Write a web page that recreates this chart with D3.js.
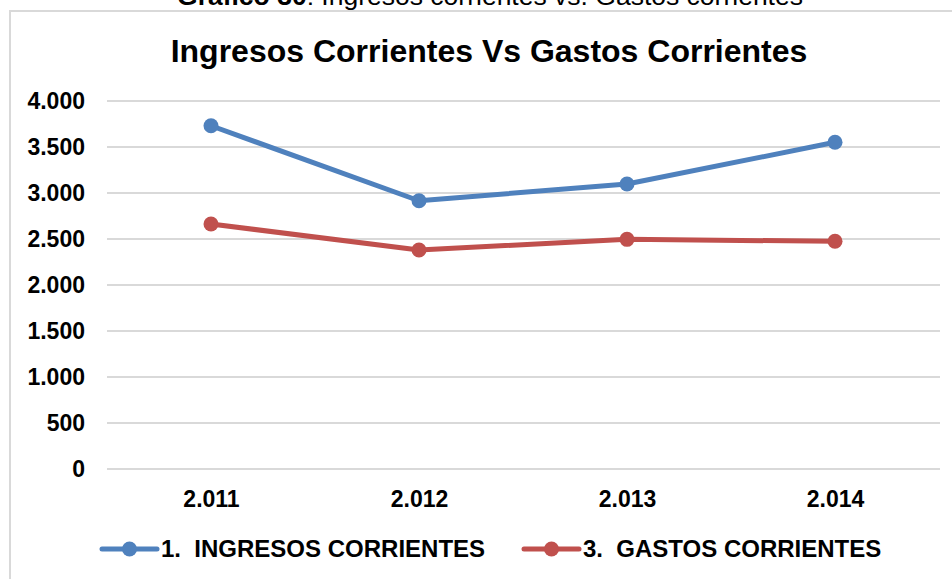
<!DOCTYPE html>
<html>
<head>
<meta charset="utf-8">
<script src="https://cdn.jsdelivr.net/npm/d3@7"></script>
<style>
  html, body { margin: 0; padding: 0; background: #fff; }
  svg { display: block; font-family: "Liberation Sans", Arial, sans-serif; }
</style>
</head>
<body>
<svg id="chart" width="952" height="579"></svg>
<script>
// Years on the horizontal axis
const years = ["2.011", "2.012", "2.013", "2.014"];
// Series values
const ingresos = [3731, 2916, 3098, 3551];
const gastos = [2663, 2380, 2496, 2475];
// Series names and colours
const seriesNames = ["1.  INGRESOS CORRIENTES", "3.  GASTOS CORRIENTES"];
const seriesColors = ["#4F81BD", "#C0504D"];
// Value axis ticks
const yTicks = [0, 500, 1000, 1500, 2000, 2500, 3000, 3500, 4000];

const svg = d3.select("#chart");
const fmt = v => d3.format(",")(v).replace(/,/g, ".");

// Caption above the chart box (partly clipped by the page top)
const cap = svg.append("text")
  .attr("x", 490).attr("y", 5)
  .attr("text-anchor", "middle")
  .attr("font-size", 26.5)
  .attr("fill", "#000");
cap.append("tspan").attr("font-weight", "bold").text("Gráfico 30");
cap.append("tspan").text(": Ingresos corrientes vs. Gastos corrientes");

// Chart box border (left and top edges visible)
svg.append("path")
  .attr("d", "M10,579 L10,11 L952,11")
  .attr("fill", "none")
  .attr("stroke", "#D9D9D9")
  .attr("stroke-width", 2);

// Title
svg.append("text")
  .attr("x", 489).attr("y", 62)
  .attr("text-anchor", "middle")
  .attr("font-size", 32)
  .attr("font-weight", "bold")
  .attr("fill", "#000")
  .text("Ingresos Corrientes Vs Gastos Corrientes");

const x = d3.scalePoint().domain(years).range([107, 939]).padding(0.5);
const y = d3.scaleLinear().domain([0, 4000]).range([469, 101]);

// Gridlines
svg.append("g")
  .selectAll("line")
  .data(yTicks)
  .join("line")
  .attr("x1", 107).attr("x2", 940)
  .attr("y1", d => y(d)).attr("y2", d => y(d))
  .attr("stroke", "#D9D9D9")
  .attr("stroke-width", 2);

// Value axis labels
const yAxis = d3.axisLeft(y).tickValues(yTicks).tickFormat(fmt).tickSize(0).tickPadding(0);
const gy = svg.append("g").attr("transform", "translate(85,0)").call(yAxis);
gy.select(".domain").remove();
gy.selectAll("text")
  .attr("font-size", 23).attr("font-weight", "bold")
  .attr("font-family", "Liberation Sans, Arial, sans-serif")
  .attr("fill", "#000");

// Category axis labels
const xAxis = d3.axisBottom(x).tickSize(0).tickPadding(0);
const gx = svg.append("g").attr("transform", "translate(0,490)").call(xAxis);
gx.select(".domain").remove();
gx.selectAll("text")
  .attr("dy", "0.72em")
  .attr("font-size", 23).attr("font-weight", "bold")
  .attr("font-family", "Liberation Sans, Arial, sans-serif")
  .attr("fill", "#000");

// Lines and markers
const series = [ingresos, gastos];
const line = d3.line().x((d, i) => x(years[i])).y(d => y(d));
series.forEach((vals, s) => {
  svg.append("path")
    .datum(vals)
    .attr("d", line)
    .attr("fill", "none")
    .attr("stroke", seriesColors[s])
    .attr("stroke-width", 5)
    .attr("stroke-linejoin", "round")
    .attr("stroke-linecap", "round");
  svg.append("g")
    .selectAll("circle")
    .data(vals)
    .join("circle")
    .attr("cx", (d, i) => x(years[i]))
    .attr("cy", d => y(d))
    .attr("r", 7.5)
    .attr("fill", seriesColors[s]);
});

// Legend
const legendX = [102, 524];
const legendY = 549;
seriesNames.forEach((name, s) => {
  const g = svg.append("g").attr("transform", `translate(${legendX[s]},${legendY})`);
  g.append("line")
    .attr("x1", 0).attr("x2", 55)
    .attr("y1", 0).attr("y2", 0)
    .attr("stroke", seriesColors[s])
    .attr("stroke-width", 5)
    .attr("stroke-linecap", "round");
  g.append("circle").attr("cx", 27.5).attr("cy", 0).attr("r", 7.5).attr("fill", seriesColors[s]);
  g.append("text")
    .attr("x", 59).attr("y", 8)
    .attr("font-size", 24).attr("font-weight", "bold")
    .attr("fill", "#000")
    .style("white-space", "pre")
    .attr("xml:space", "preserve")
    .text(name);
});
</script>
</body>
</html>
